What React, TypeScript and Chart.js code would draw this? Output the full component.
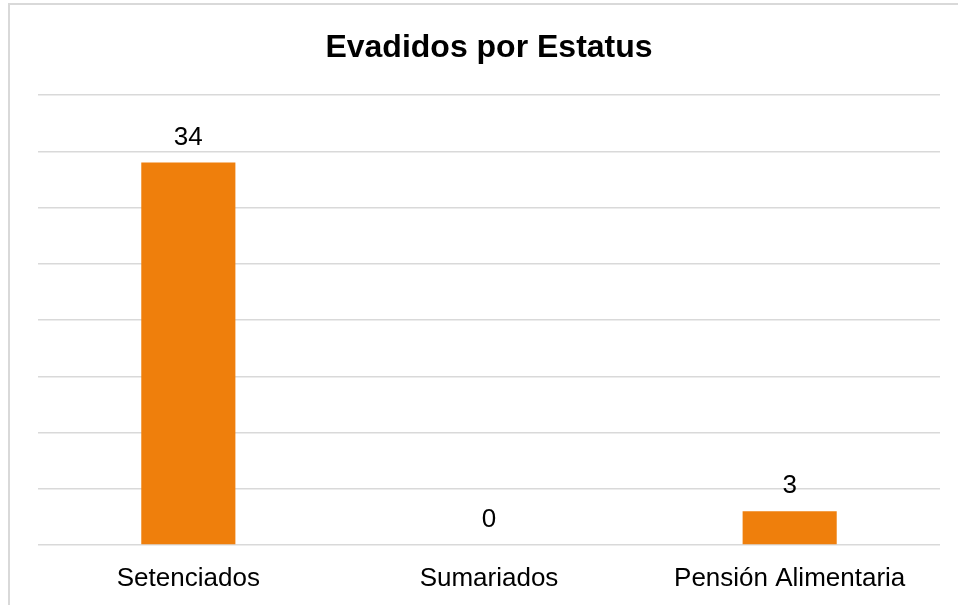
import React, { useEffect, useRef } from "react";
import { Chart, registerables } from "chart.js";

Chart.register(...registerables);

const categories = ["Setenciados", "Sumariados", "Pensión Alimentaria"];
const values = [34, 0, 3];
const titleText = "Evadidos por Estatus";
const yMax = 40;
const yStep = 5;

const FONT = "'Liberation Sans', Arial, sans-serif";

const valueLabels = {
  id: "valueLabels",
  afterDatasetsDraw(chart: any) {
    const ctx = chart.ctx;
    const meta = chart.getDatasetMeta(0);
    ctx.save();
    ctx.font = `26px ${FONT}`;
    ctx.fillStyle = "#000000";
    ctx.textAlign = "center";
    ctx.textBaseline = "middle";
    meta.data.forEach((el: any, i: number) => {
      const v = chart.data.datasets[0].data[i];
      ctx.fillText(String(v), el.x, el.y - 25);
    });
    ctx.restore();
  },
};

export default function App() {
  const ref = useRef<HTMLCanvasElement | null>(null);
  useEffect(() => {
    if (!ref.current) return;
    const chart = new Chart(ref.current, {
      type: "bar",
      data: {
        labels: categories,
        datasets: [
          {
            data: values,
            backgroundColor: "#EF7F0C",
            borderWidth: 0,
            barPercentage: 0.313,
            categoryPercentage: 1,
          },
        ],
      },
      options: {
        responsive: false,
        animation: false,
        layout: { padding: { left: 38, right: 18, top: 0, bottom: 12 } },
        plugins: {
          legend: { display: false },
          tooltip: { enabled: false },
          title: {
            display: true,
            text: titleText,
            color: "#000000",
            font: { family: FONT, size: 32, weight: "bold", lineHeight: 1.2 },
            padding: { top: 29, bottom: 27.6 },
          },
        },
        scales: {
          x: {
            grid: { display: false, drawTicks: false },
            border: { display: false },
            ticks: {
              color: "#000000",
              font: { family: FONT, size: 26, lineHeight: 1.2 },
              padding: 18,
              maxRotation: 0,
              autoSkip: false,
            },
            afterFit(axis: any) {
              axis.height = 48;
            },
          },
          y: {
            min: 0,
            max: yMax,
            ticks: { display: false, stepSize: yStep },
            grid: { color: "#D9D9D9", lineWidth: 1.5, drawTicks: false },
            border: { display: false },
            afterFit(axis: any) {
              axis.width = 0;
            },
          },
        },
      },
      plugins: [valueLabels],
    });
    return () => chart.destroy();
  }, []);

  return (
    <div
      style={{
        position: "fixed",
        left: 0,
        top: 0,
        width: 958,
        height: 605,
        overflow: "hidden",
        background: "#ffffff",
      }}
    >
      <div
        style={{
          position: "absolute",
          left: 8,
          top: 3,
          width: 1100,
          height: 800,
          border: "2px solid #D9D9D9",
          boxSizing: "border-box",
        }}
      />
      <canvas
        ref={ref}
        width={958}
        height={605}
        style={{ position: "absolute", left: 0, top: 0 }}
      />
    </div>
  );
}
